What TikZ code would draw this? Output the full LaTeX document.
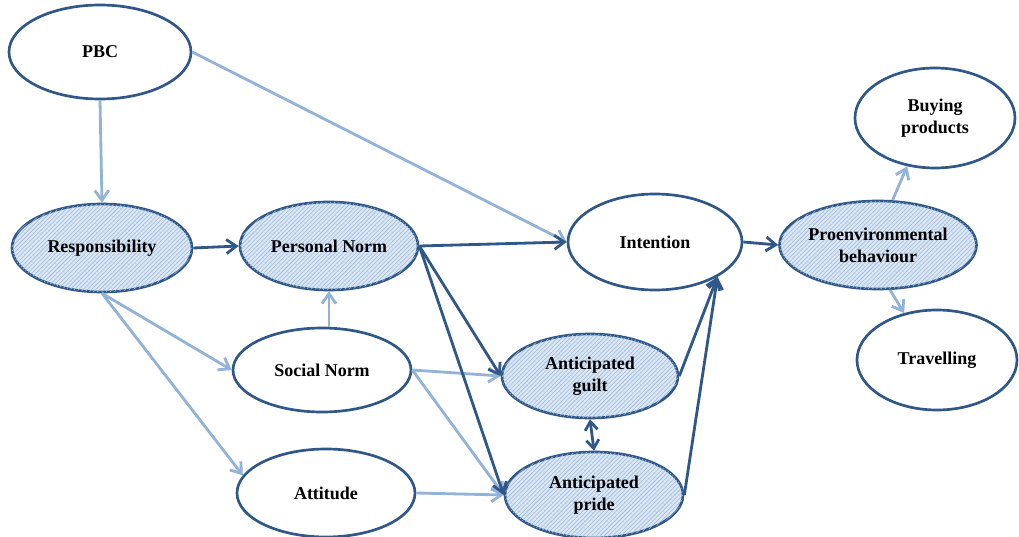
\documentclass[tikz,border=0pt]{standalone}
\usepackage{fontspec}
\setmainfont{Liberation Serif}
\usetikzlibrary{shapes.geometric,arrows.meta,patterns}
\definecolor{edgeblue}{HTML}{2F5788}
\definecolor{lightblue}{HTML}{93B2D8}
\definecolor{shadeblue}{HTML}{DCE7F4}
\definecolor{hatchblue}{HTML}{9DB9DD}
\begin{document}
\begin{tikzpicture}[
    construct/.style={ellipse, draw=edgeblue, line width=1.9pt, fill=white, inner sep=0pt,
      align=center, font=\fontsize{12.8}{15.5}\selectfont\bfseries},
    shaded/.style={construct, fill=shadeblue, postaction={pattern=north east lines, pattern color=hatchblue}},
    weak/.style={draw=lightblue, line width=2pt, -{Straight Barb[length=7pt,width=10pt]}},
    strong/.style={draw=edgeblue, line width=2pt, -{Straight Barb[length=7pt,width=10pt]}}
  ]
                    \useasboundingbox (0,0) rectangle (25.475,-13.425);

                    \node[construct, minimum width=4.55cm, minimum height=2.35cm] (pbc) at (2.5,-1.3) {PBC};
                    \node[shaded, minimum width=4.5cm, minimum height=2.2cm] (resp) at (2.55,-6.2) {Responsibility};
                    \node[shaded, minimum width=4.45cm, minimum height=2.2cm] (pnorm) at (8.225,-6.15) {Personal Norm};
                    \node[construct, minimum width=4.35cm, minimum height=2.4cm] (intent) at (16.375,-6.05) {Intention};
                    \node[shaded, minimum width=4.5cm, minimum height=2.2cm] (proenv) at (21.95,-6.125) {Proenvironmental\\behaviour};
                    \node[construct, minimum width=4.0cm, minimum height=2.5cm] (buy) at (23.375,-2.95) {Buying\\products};
                    \node[construct, minimum width=4.0cm, minimum height=2.5cm] (travel) at (23.425,-9.0) {Travelling};
                    \node[construct, minimum width=4.45cm, minimum height=2.1cm] (snorm) at (8.05,-9.25) {Social Norm};
                    \node[construct, minimum width=4.45cm, minimum height=2.2cm] (att) at (8.15,-12.325) {Attitude};
                    \node[shaded, minimum width=4.4cm, minimum height=2.1cm] (guilt) at (14.75,-9.4) {Anticipated\\guilt};
                    \node[shaded, minimum width=4.45cm, minimum height=2.15cm] (pride) at (14.85,-12.375) {Anticipated\\pride};

                    \draw[weak] (pbc.south) -- (resp.north);
                    \draw[weak] (pbc.east) -- (intent.west);
                    \draw[weak] (resp.south) -- (snorm.west);
                    \draw[weak] (resp.south) -- (att.168);
                    \draw[weak] (pnorm.south |- snorm.north) -- (pnorm.south);
                    \draw[weak] (snorm.east) -- (guilt.west);
                    \draw[weak] (snorm.east) -- (pride.west);
                    \draw[weak] (att.east) -- (pride.west);
                    \draw[weak] (proenv.72) -- (buy.240);
                    \draw[weak] (proenv.285) -- (travel.125);

                    \draw[strong] (resp.east) -- (pnorm.west);
                    \draw[strong] (pnorm.east) -- (intent.west);
                    \draw[strong] (pnorm.east) -- (guilt.west);
                    \draw[strong] (pnorm.east) -- (pride.west);
                    \draw[strong, {Straight Barb[length=6pt,width=9pt]}-{Straight Barb[length=6pt,width=9pt]}] (guilt.south) -- (pride.north);
                    \draw[strong] (guilt.east) -- (intent.south east);
                    \draw[strong] (pride.east) -- (intent.south east);
                    \draw[strong] (intent.east) -- (proenv.west);

                  \end{tikzpicture}
\end{document}
